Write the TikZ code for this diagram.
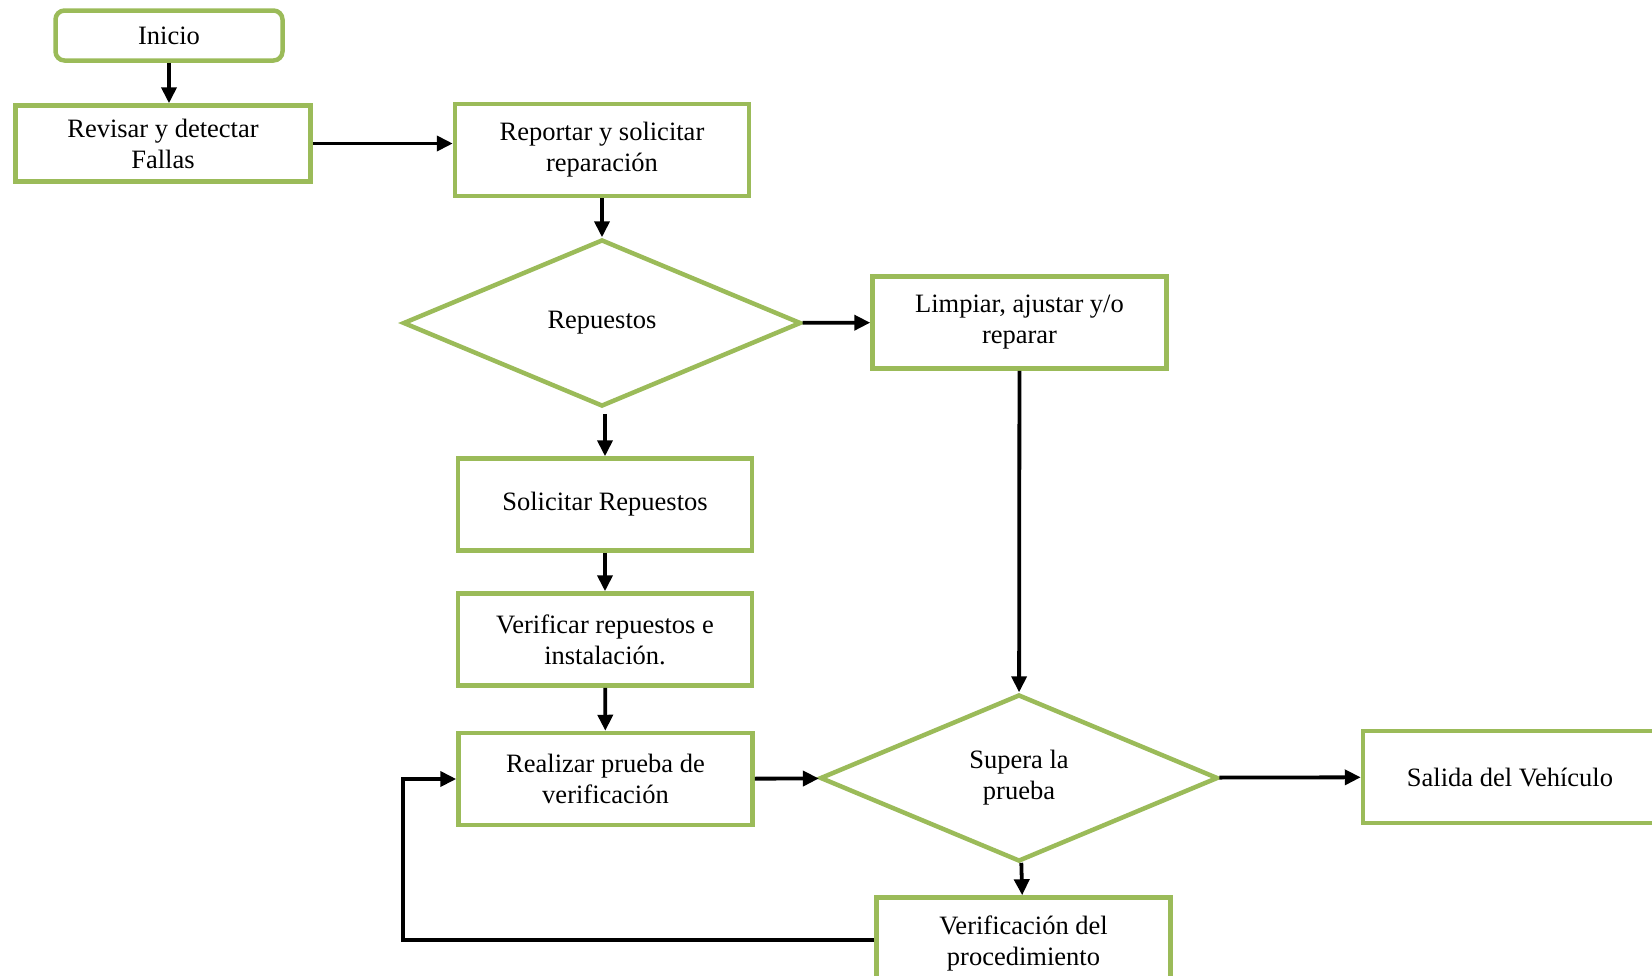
\documentclass[tikz,border=0pt]{standalone}
\usepackage{fontspec}
\setmainfont{Liberation Serif}
\usepackage{xcolor}
\usetikzlibrary{positioning, arrows.meta, shapes.geometric}
\definecolor{leafgreen}{HTML}{9BBB59}

\begin{document}
\begin{tikzpicture}[x=1pt, y=-1pt,
  process/.style={rectangle, draw=leafgreen, line width=4.5pt, align=center, minimum width=294pt, minimum height=92pt, inner sep=0pt, font=\fontsize{26.5}{31}\selectfont},
  terminal/.style={process, rounded corners=9pt, minimum width=227pt, minimum height=50pt},
  decision/.style={diamond, draw=leafgreen, line width=4.5pt, align=center, minimum width=398pt, minimum height=167pt, inner sep=0pt, font=\fontsize{26.5}{31}\selectfont},
  arrow/.style={line width=3.8pt, -{Triangle[length=16pt, width=15pt]}}]

  \clip (0,0) rectangle (1652,975);

  \node (inicio) [terminal] at (169,35.5) {Inicio};
  \node (revisar) [process, minimum height=76pt, minimum width=295pt] at (163,143.5) {Revisar y detectar\\Fallas};
  \node (reportar) [process] at (602,150) {Reportar y solicitar\\reparación};
  \node (repuestos) [decision] at (602,323) {Repuestos};
  \node (limpiar) [process] at (1019.5,322.5) {Limpiar, ajustar y/o\\reparar};
  \node (solicitar) [process] at (605,504.5) {Solicitar Repuestos};
  \node (verificar) [process] at (605,639.5) {Verificar repuestos e\\instalación.};
  \node (realizar) [process] at (605.5,779) {Realizar prueba de\\verificación};
  \node (supera) [decision] at (1019,778) {Supera la\\prueba};
  \node (salida) [process] at (1510,777) {Salida del Vehículo};
  \node (verifproc) [process] at (1023.5,943.5) {Verificación del\\procedimiento};
  \coordinate (loop) at (403,940);

  \draw [arrow] (inicio.south) -- (inicio.south |- revisar.north);
  \draw [arrow] (revisar.east) -- (revisar.east -| reportar.west);
  \draw [arrow] (reportar) -- (repuestos);
  \draw [arrow] (repuestos) -- (limpiar);
  \draw [arrow] ([yshift=-5pt]solicitar.north |- repuestos.south) -- (solicitar.north);
  \draw [arrow] (solicitar) -- (verificar);
  \draw [arrow] (verificar) -- (realizar);
  \draw [arrow] (limpiar) -- (supera);
  \draw [arrow] (realizar) -- (supera);
  \draw [arrow] (supera) -- (salida);
  \draw [arrow] (supera) -- (verifproc);
  \draw [arrow] (verifproc.west |- loop) -- (loop) |- (realizar.west);
\end{tikzpicture}
\end{document}
